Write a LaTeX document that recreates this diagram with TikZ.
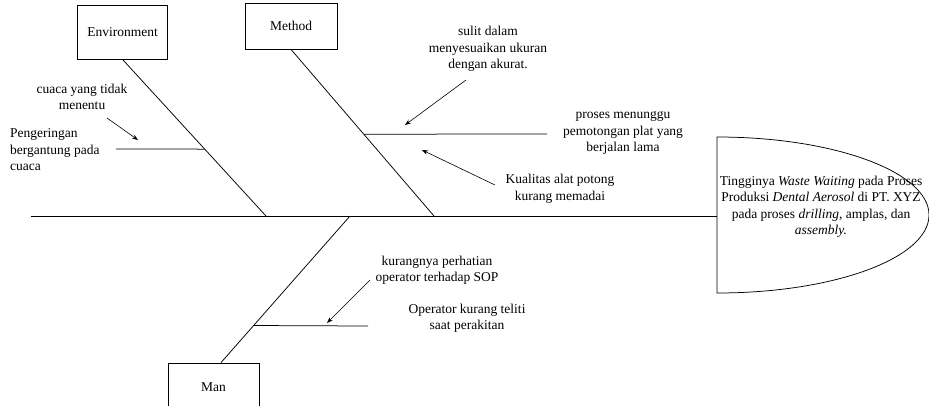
\documentclass[tikz,border=0pt]{standalone}
\usepackage{fontspec}
\setmainfont{Liberation Serif}
\usepackage{tikz}
\usetikzlibrary{arrows.meta,calc,positioning}

\begin{document}
\begin{tikzpicture}[
    x=1pt, y=-1pt,
    font=\fontsize{13.5}{16.5}\selectfont,
    cause/.style={draw, line width=0.8pt, minimum width=90pt, align=center},
    bone/.style={line width=0.75pt},
    note/.style={align=center, inner sep=0pt},
    hint/.style={line width=0.6pt, -{Stealth[length=6pt,width=4.5pt]}}
]
\useasboundingbox (0,0) rectangle (929,405);

\node[cause, minimum height=54pt] (env) at (122.5,32) {Environment};
\node[cause, minimum height=46pt, minimum width=92pt] (meth) at (291,26) {Method};
\node[cause, minimum height=48pt, minimum width=91pt] (man) at (213.5,387) {Man};

\coordinate (tail) at (31,216);
\coordinate (headw) at (717,216);
\coordinate (je) at (266,216);
\coordinate (jm) at (434,216);
\coordinate (jn) at (350,216);

\draw[bone] (717,137) arc[start angle=90, end angle=-90, x radius=212pt, y radius=78pt] -- cycle;
\node[note] (effect) at (821,207)
    {Tingginya \textit{Waste Waiting} pada Proses\\
     Produksi \textit{Dental Aerosol} di PT. XYZ\\
     pada proses \textit{drilling}, amplas, dan\\
     \textit{assembly.}};

\draw[bone] (tail) -- (headw);
\draw[bone] (env.south) -- (je);
\draw[bone] (meth.south) -- (jm);
\draw[bone] ([xshift=7.5pt]man.north) -- (jn);

\coordinate (eb) at ($(env.south)!0.573!(je)$);
\coordinate (mb) at ($(meth.south)!0.509!(jm)$);
\coordinate (nb) at ($([xshift=7.5pt]man.north)!0.253!(jn)$);
\coordinate (eb end) at (116,149);
\coordinate (mb end) at (547,134);
\coordinate (nb end) at (368,326);
\draw[bone] (eb) -- (eb end);
\draw[bone] (mb) -- (mb end);
\draw[bone] (nb) -- (nb end);

\node[note] (cuaca) at (82,97) {cuaca yang tidak\\menentu};
\node[note, anchor=west, align=left] (kering) at (10,150) {Pengeringan\\bergantung pada\\cuaca};
\node[note] (sulit) at (488,49) {sulit dalam\\menyesuaikan ukuran\\dengan akurat.};
\node[note] (tunggu) at (623,133) {proses menunggu\\pemotongan plat yang\\berjalan lama};
\node[note] (alat) at (560,189) {Kualitas alat potong\\kurang memadai};
\node[note] (sop) at (437,270) {kurangnya perhatian\\operator terhadap SOP};
\node[note] (teliti) at (467,318) {Operator kurang teliti\\saat perakitan};

\coordinate (a1) at (107,118);
\coordinate (a1 tip) at (138,140);
\coordinate (a2) at (466,80);
\coordinate (a2 tip) at (405,125);
\coordinate (a3) at (495,185);
\coordinate (a3 tip) at (422,150);
\coordinate (a4) at (370,280);
\coordinate (a4 tip) at (327,323);
\draw[hint] (a1) -- (a1 tip);
\draw[hint] (a2) -- (a2 tip);
\draw[hint] (a3) -- (a3 tip);
\draw[hint] (a4) -- (a4 tip);

\end{tikzpicture}
\end{document}
